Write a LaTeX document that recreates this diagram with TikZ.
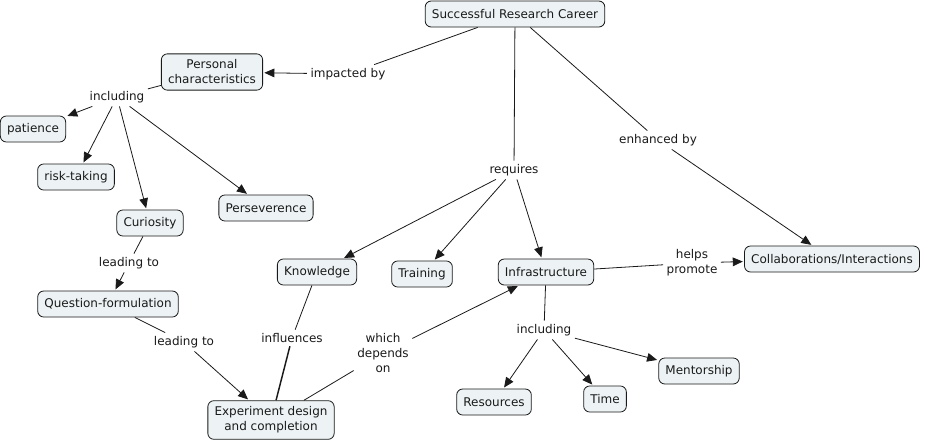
\documentclass[tikz,border=0pt]{standalone}
\usepackage{fontspec}
\setmainfont{DejaVu Sans}
\usepackage{xcolor}
\definecolor{mapInk}{HTML}{1A1A1A}
\definecolor{conceptBg}{HTML}{EDF3F5}
\usetikzlibrary{arrows.meta}
\tikzset{%
  conceptBox/.style={%
    rectangle,
    rounded corners=4.5pt,
    draw=mapInk,
    line width=0.6pt,
    fill=conceptBg,
    text=mapInk,
    inner xsep=5pt,
    inner ysep=4.5pt,
    minimum height=19.5pt,
    align=center
  },
  linkText/.style={%
    text=mapInk,
    inner sep=2.5pt,
    align=center
  },
  plainLine/.style={%
    line width=0.6pt,
    color=mapInk
  },
  arrowLine/.style={%
    -{Triangle[length=7.5pt,width=6.5pt]},
    shorten >=1pt,
    line width=0.6pt,
    color=mapInk
  }
}
\begin{document}
\begin{tikzpicture}[x=0.75pt,y=-0.75pt,font=\fontsize{9}{11.25}\selectfont]
  \useasboundingbox[fill=white] (0,0) rectangle (931,443);

  % concepts
  \node[conceptBox] (career) at (515,14) {Successful Research Career};
  \node[conceptBox] (personal) at (212,72) {Personal\\characteristics};
  \node[conceptBox] (patience) at (33,129) {patience};
  \node[conceptBox] (risk) at (76,177) {risk-taking};
  \node[conceptBox] (curiosity) at (150,223) {Curiosity};
  \node[conceptBox] (persev) at (266,208) {Perseverence};
  \node[conceptBox] (question) at (108,304) {Question-formulation};
  \node[conceptBox] (knowledge) at (317,272) {Knowledge};
  \node[conceptBox] (training) at (422,274) {Training};
  \node[conceptBox] (experiment) at (271,420) {Experiment design\\and completion};
  \node[conceptBox] (infra) at (546,272) {Infrastructure};
  \node[conceptBox] (collab) at (832,259) {Collaborations/Interactions};
  \node[conceptBox] (resources) at (494,402) {Resources};
  \node[conceptBox] (time) at (605,399) {Time};
  \node[conceptBox] (mentor) at (699,371) {Mentorship};

  % linking phrases
  \node[linkText] (impacted) at (348,74) {impacted by};
  \node[linkText] (inclPersonal) at (117,97) {including};
  \node[linkText] (leadQuestion) at (129,263) {leading to};
  \node[linkText] (leadExperiment) at (184,342) {leading to};
  \node[linkText] (influences) at (292,338) {influences};
  \node[linkText] (dependsOn) at (383,353) {which\\depends\\on};
  \node[linkText] (requires) at (514,170) {requires};
  \node[linkText] (enhanced) at (658,140) {enhanced by};
  \node[linkText] (promote) at (692,263) {helps\\promote};
  \node[linkText] (inclInfra) at (544,330) {including};

  % connections
  \draw[plainLine] (career) -- (impacted);
  \draw[arrowLine] (impacted) -- (personal);
  \draw[plainLine] (personal) -- (inclPersonal);
  \foreach \target in {patience,risk,curiosity,persev}
    \draw[arrowLine] (inclPersonal) -- (\target);
  \draw[plainLine] (curiosity) -- (leadQuestion);
  \draw[arrowLine] (leadQuestion) -- (question);
  \draw[plainLine] (question) -- (leadExperiment);
  \draw[arrowLine] (leadExperiment) -- (experiment);
  \draw[plainLine] (knowledge) -- (influences);
  \draw[plainLine, line width=1.1pt] (influences) -- (experiment);
  \draw[plainLine] (experiment) -- (dependsOn);
  \draw[arrowLine] (dependsOn) -- (infra);
  \draw[plainLine] (career) -- (requires);
  \foreach \target in {knowledge,training,infra}
    \draw[arrowLine] (requires) -- (\target);
  \draw[plainLine] (career) -- (enhanced);
  \draw[arrowLine] (enhanced) -- (collab);
  \draw[plainLine] (infra) -- (promote);
  \draw[arrowLine] (promote) -- (collab);
  \draw[plainLine] (infra) -- (inclInfra);
  \foreach \target in {resources,time,mentor}
    \draw[arrowLine] (inclInfra) -- (\target);
\end{tikzpicture}
\end{document}
